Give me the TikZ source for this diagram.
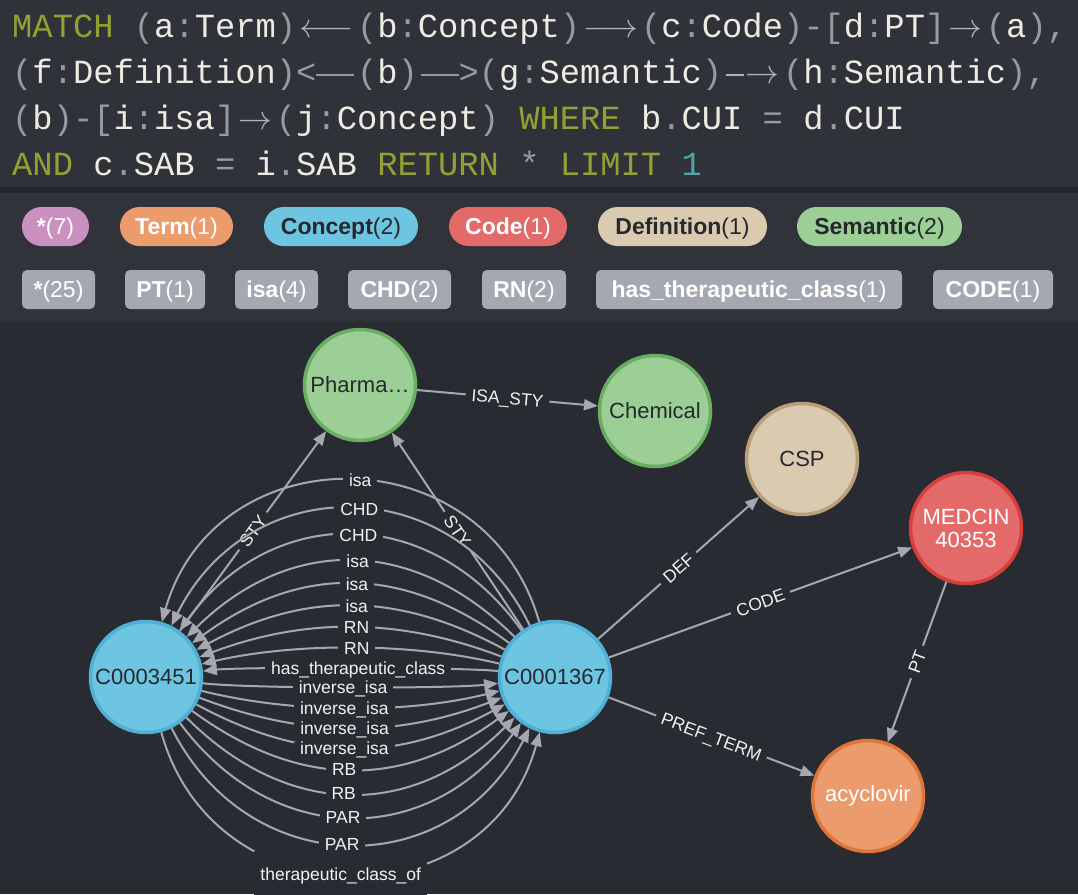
\RequirePackage{fix-cm}
\documentclass[tikz,border=0pt]{standalone}
\usepackage{fontspec}
\usetikzlibrary{arrows.meta}
\newfontfamily\qfont{Liberation Mono}
\newfontfamily\sfnt{Liberation Sans}
\definecolor{qbg}{RGB}{47,50,57}
\definecolor{sepc}{RGB}{37,39,45}
\definecolor{bbg}{RGB}{48,51,58}
\definecolor{gbg}{RGB}{41,43,50}
\definecolor{qkw}{RGB}{148,160,52}
\definecolor{qpn}{RGB}{150,155,163}
\definecolor{qar}{RGB}{175,179,186}
\definecolor{qid}{RGB}{238,236,226}
\definecolor{qnum}{RGB}{78,166,166}
\definecolor{dtext}{RGB}{38,40,46}
\definecolor{ltext}{RGB}{242,242,242}
\definecolor{ecol}{RGB}{165,168,176}
\definecolor{cpur}{RGB}{201,144,192}
\definecolor{corg}{RGB}{236,155,109}
\definecolor{corgd}{RGB}{224,117,58}
\definecolor{cblu}{RGB}{110,197,226}
\definecolor{cblud}{RGB}{80,176,214}
\definecolor{cred}{RGB}{228,106,106}
\definecolor{credd}{RGB}{216,62,60}
\definecolor{cbei}{RGB}{218,202,176}
\definecolor{cbeid}{RGB}{185,160,120}
\definecolor{cgrn}{RGB}{155,207,150}
\definecolor{cgrnd}{RGB}{106,174,98}
\definecolor{cgry}{RGB}{165,168,176}
\newlength\cw
\setlength\cw{20.3pt}
\newcommand\qk[1]{\textcolor{qkw}{#1}}
\newcommand\qp[1]{\textcolor{qpn}{#1}}
\newcommand\qi[1]{\textcolor{qid}{#1}}
\newcommand\qLA{\textcolor{qar}{\makebox[3\cw]{$\longleftarrow$}}}
\newcommand\qRA{\textcolor{qar}{\makebox[3\cw]{$\longrightarrow$}}}
\newcommand\qSA{\textcolor{qar}{\makebox[2\cw]{$\rightarrow$}}}
\newcommand\qDL{\textcolor{qpn}{\makebox[2\cw][l]{\rule[7.5pt]{1.85\cw}{2.2pt}}}}
\newcommand\qDR{\textcolor{qpn}{\makebox[2\cw][r]{\rule[7.5pt]{1.85\cw}{2.2pt}}}}
\newcommand\qDA{\textcolor{qar}{\makebox[3\cw]{\rule[7.5pt]{0.9\cw}{2.2pt}\hspace{2pt}$\rightarrow$}}}
\begin{document}
\begin{tikzpicture}[x=1pt,y=1pt,
  qline/.style={anchor=base west, inner sep=0pt, font=\qfont\fontsize{33.8}{40}\selectfont},
  pill/.style={rounded corners=19.5pt, minimum height=39pt, inner sep=0pt, text height=16pt, text depth=0pt, font=\sfnt\fontsize{23}{25}\selectfont},
  tagbox/.style={rounded corners=5pt, fill=cgry, minimum height=39pt, inner sep=0pt, text height=16pt, text depth=0pt, text=white, font=\sfnt\fontsize{23}{25}\selectfont},
  nd/.style={circle, minimum size=111pt, inner sep=0pt, line width=3.5pt, font=\sfnt\fontsize{22}{24}\selectfont, text=dtext},
  edge/.style={draw=ecol, line width=2pt, -{Triangle[length=14pt,width=11pt]}},
  elbl/.style={font=\sfnt\fontsize{17.5}{18}\selectfont, text=ltext, fill=gbg, inner xsep=6pt, inner ysep=0pt, text height=12.5pt, text depth=0pt},
  albl/.style={elbl, pos=0.48}
]
\useasboundingbox (0,0) rectangle (1078,-894);
\fill[qbg] (0,0) rectangle (1078,-187);
\fill[sepc] (0,-187) rectangle (1078,-193);
\fill[bbg] (0,-193) rectangle (1078,-322);
\fill[gbg] (0,-322) rectangle (1078,-894);

% query text
\node[qline] (q1) at (12,-37.3) {\qk{MATCH} \qp{(}\qi{a}\qp{:}\qi{Term}\qp{)}\qLA\qp{(}\qi{b}\qp{:}\qi{Concept}\qp{)}\qRA\qp{(}\qi{c}\qp{:}\qi{Code}\qp{)-[}\qi{d}\qp{:}\qi{PT}\qp{]}\qSA\qp{(}\qi{a}\qp{),}};
\node[qline] (q2) at (12,-83.2) {\qp{(}\qi{f}\qp{:}\qi{Definition}\qp{)<}\qDL\qp{(}\qi{b}\qp{)}\qDR\qp{>(}\qi{g}\qp{:}\qi{Semantic}\qp{)}\qDA\qp{(}\qi{h}\qp{:}\qi{Semantic}\qp{),}};
\node[qline] (q3) at (12,-129.1) {\qp{(}\qi{b}\qp{)-[}\qi{i}\qp{:}\qi{isa}\qp{]}\qSA\qp{(}\qi{j}\qp{:}\qi{Concept}\qp{)} \qk{WHERE} \qi{b}\qp{.}\qi{CUI} \qp{=} \qi{d}\qp{.}\qi{CUI}};
\node[qline] (q4) at (12,-175) {\qk{AND} \qi{c}\qp{.}\qi{SAB} \qp{=} \qi{i}\qp{.}\qi{SAB} \qk{RETURN} \qp{*} \qk{LIMIT} \textcolor{qnum}{1}};

% label pills
\node[pill, fill=cpur, text=white, minimum width=67pt] (p1) at (55.5,-226.5) {\textbf{*}(7)};
\node[pill, fill=corg, text=white, minimum width=113pt] (p2) at (176.5,-226.5) {\textbf{Term}(1)};
\node[pill, fill=cblu, text=dtext, minimum width=154pt] (p3) at (341,-226.5) {\textbf{Concept}(2)};
\node[pill, fill=cred, text=white, minimum width=118pt] (p4) at (508,-226.5) {\textbf{Code}(1)};
\node[pill, fill=cbei, text=dtext, minimum width=169pt] (p5) at (682.5,-226.5) {\textbf{Definition}(1)};
\node[pill, fill=cgrn, text=dtext, minimum width=165pt] (p6) at (879.5,-226.5) {\textbf{Semantic}(2)};

% relationship type tags
\node[tagbox, minimum width=73pt] (t1) at (58.5,-289.5) {\textbf{*}(25)};
\node[tagbox, minimum width=80pt] (t2) at (165,-289.5) {\textbf{PT}(1)};
\node[tagbox, minimum width=83pt] (t3) at (276.5,-289.5) {\textbf{isa}(4)};
\node[tagbox, minimum width=103pt] (t4) at (399.5,-289.5) {\textbf{CHD}(2)};
\node[tagbox, minimum width=84pt] (t5) at (524,-289.5) {\textbf{RN}(2)};
\node[tagbox, minimum width=306pt] (t6) at (749,-289.5) {\textbf{has\_therapeutic\_class}(1)};
\node[tagbox, minimum width=120pt] (t7) at (993,-289.5) {\textbf{CODE}(1)};

% graph nodes
\node[nd, fill=cgrn, draw=cgrnd] (pharma) at (360,-385) {Pharma…};
\node[nd, fill=cgrn, draw=cgrnd] (chem) at (655,-411) {Chemical};
\node[nd, fill=cbei, draw=cbeid] (csp) at (802,-459) {CSP};
\node[nd, fill=cred, draw=credd, text=white, align=center, font=\sfnt\fontsize{22}{23}\selectfont] (medcin) at (966,-528) {MEDCIN\\40353};
\node[nd, fill=corg, draw=corgd, text=white] (acyc) at (868,-796) {acyclovir};
\node[nd, fill=cblu, draw=cblud] (c1) at (146,-677) {C0003451};
\node[nd, fill=cblu, draw=cblud] (c2) at (555,-677) {C0001367};

% straight relationships
\draw[edge] (pharma) -- node[elbl, sloped] {ISA\_STY} (chem);
\draw[edge] (c1) -- node[elbl, sloped] {STY} (pharma);
\draw[edge] (c2) -- node[elbl, sloped] {STY} (pharma);
\draw[edge] (c2) -- node[elbl, sloped] {DEF} (csp);
\draw[edge] (c2) -- node[elbl, sloped] {CODE} (medcin);
\draw[edge] (c2) -- node[elbl, sloped] {PREF\_TERM} (acyc);
\draw[edge] (medcin) -- node[elbl, sloped] {PT} (acyc);

% upper arcs: C0001367 -> C0003451
\draw[edge] (c2) to[out=106.0, in=74.0, looseness=1.334] node[albl] {isa} (c1);
\draw[edge] (c2) to[out=116.1, in=63.9, looseness=1.246] node[albl] {CHD} (c1);
\draw[edge] (c2) to[out=125.9, in=54.1, looseness=1.177] node[albl] {CHD} (c1);
\draw[edge] (c2) to[out=135.3, in=44.7, looseness=1.121] node[albl] {isa} (c1);
\draw[edge] (c2) to[out=143.6, in=36.4, looseness=1.071] node[albl] {isa} (c1);
\draw[edge] (c2) to[out=151.6, in=28.4, looseness=1.016] node[albl] {isa} (c1);
\draw[edge] (c2) to[out=159.2, in=20.8, looseness=0.942] node[albl] {RN} (c1);
\draw[edge] (c2) to[out=166.8, in=13.2, looseness=0.796] node[albl] {RN} (c1);
\draw[edge] (c2) to[out=174.0, in=6.0, looseness=0.335] node[albl] {has\_therapeutic\_class} (c1);

% lower arcs: C0003451 -> C0001367
\draw[edge] (c1) to[out=-74.7, in=254.7, looseness=1.341] node[albl, minimum height=48pt] {therapeutic\_class\_of} (c2);
\draw[edge] (c1) to[out=-63.5, in=243.5, looseness=1.243] node[albl] {PAR} (c2);
\draw[edge] (c1) to[out=-53.7, in=233.7, looseness=1.176] node[albl] {PAR} (c2);
\draw[edge] (c1) to[out=-45.1, in=225.1, looseness=1.123] node[albl] {RB} (c2);
\draw[edge] (c1) to[out=-36.4, in=216.4, looseness=1.071] node[albl] {RB} (c2);
\draw[edge] (c1) to[out=-28.8, in=208.8, looseness=1.019] node[albl] {inverse\_isa} (c2);
\draw[edge] (c1) to[out=-21.2, in=201.2, looseness=0.947] node[albl] {inverse\_isa} (c2);
\draw[edge] (c1) to[out=-14.0, in=194.0, looseness=0.817] node[albl] {inverse\_isa} (c2);
\draw[edge] (c1) to[out=-6.7, in=186.7, looseness=0.426] node[albl] {inverse\_isa} (c2);
\end{tikzpicture}
\end{document}
